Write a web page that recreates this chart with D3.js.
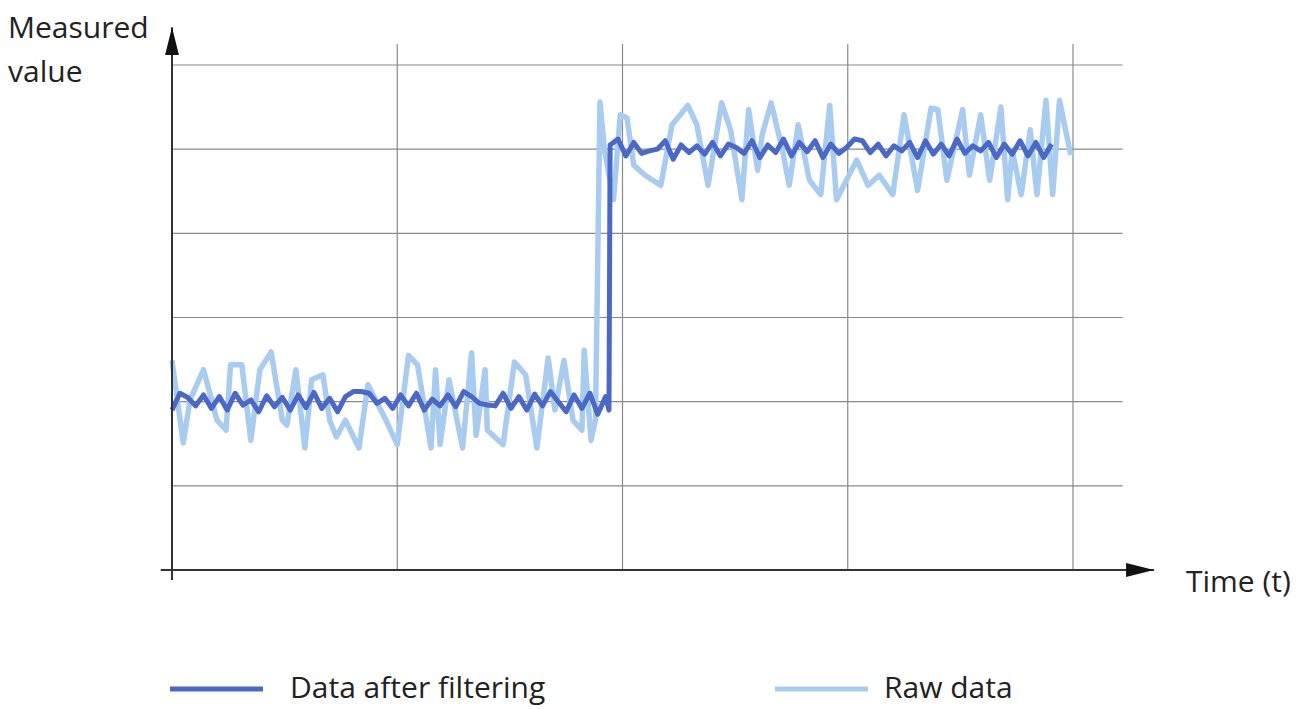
<!DOCTYPE html>
<html>
<head>
<meta charset="utf-8">
<script src="https://cdn.jsdelivr.net/npm/d3@7"></script>
<style>
  body { margin: 0; background: #fff; }
  text { font-family: "Open Sans", "Noto Sans", sans-serif; fill: #222; }
</style>
</head>
<body>
<div id="chart"></div>
<script>
// grid ticks (time units and value units)
const timeTicks = [0, 1, 2, 3, 4];
const valueTicks = [1, 2, 3, 4, 5, 6];

// raw signal (noisy)
const rawTime = [0.00, 0.05, 0.08, 0.14, 0.20, 0.24, 0.26, 0.31, 0.35, 0.39, 0.44, 0.49, 0.51, 0.55, 0.59, 0.62,
  0.67, 0.70, 0.73, 0.77, 0.83, 0.87, 0.95, 1.00, 1.05, 1.09, 1.15, 1.17, 1.19, 1.23, 1.29, 1.33, 1.35, 1.39,
  1.40, 1.47, 1.52, 1.57, 1.62, 1.67, 1.70, 1.74, 1.78, 1.82, 1.83, 1.86, 1.88, 1.90, 1.92, 1.96, 1.99, 2.02,
  2.05, 2.10, 2.17, 2.22, 2.29, 2.33, 2.38, 2.44, 2.48, 2.53, 2.56, 2.60, 2.62, 2.66, 2.71, 2.74, 2.78, 2.83,
  2.88, 2.92, 2.95, 3.04, 3.09, 3.14, 3.20, 3.25, 3.31, 3.37, 3.40, 3.44, 3.51, 3.54, 3.59, 3.63, 3.68, 3.71,
  3.73, 3.77, 3.81, 3.84, 3.88, 3.91, 3.94, 3.99];
const rawValue = [2.49, 1.51, 2.02, 2.38, 1.78, 1.66, 2.44, 2.44, 1.54, 2.38, 2.59, 1.78, 1.72, 2.38, 1.45, 2.26,
  2.32, 1.78, 1.58, 1.78, 1.45, 2.20, 1.78, 1.49, 2.55, 2.44, 1.45, 2.38, 1.49, 2.26, 1.45, 2.58, 1.60, 2.38,
  1.66, 1.49, 2.47, 2.32, 1.45, 2.52, 1.90, 2.49, 1.78, 1.66, 2.61, 1.54, 1.78, 5.56, 4.99, 4.40, 5.41, 5.37,
  4.81, 4.69, 4.57, 5.29, 5.52, 5.29, 4.57, 5.55, 5.23, 4.40, 5.47, 4.75, 5.17, 5.55, 4.99, 4.57, 5.29, 4.63,
  4.46, 5.52, 4.40, 4.87, 4.57, 4.69, 4.46, 5.41, 4.51, 5.49, 5.47, 4.63, 5.47, 4.69, 5.41, 4.63, 5.50, 4.40,
  4.99, 4.46, 5.23, 4.46, 5.58, 4.46, 5.58, 4.93];

// filtered signal
const filteredTime = [0.00, 0.035, 0.07, 0.105, 0.14, 0.175, 0.21, 0.245, 0.28, 0.315, 0.35, 0.385, 0.42, 0.455,
  0.49, 0.525, 0.56, 0.595, 0.63, 0.665, 0.70, 0.735, 0.77, 0.805, 0.84, 0.875, 0.91, 0.945, 0.98, 1.015, 1.05,
  1.085, 1.12, 1.155, 1.19, 1.225, 1.26, 1.295, 1.33, 1.365, 1.40, 1.435, 1.47, 1.505, 1.54, 1.575, 1.61, 1.645,
  1.68, 1.715, 1.75, 1.785, 1.82, 1.855, 1.89, 1.925, 1.94, 1.945, 1.98, 2.015, 2.05, 2.085, 2.12, 2.155, 2.19,
  2.225, 2.26, 2.295, 2.33, 2.365, 2.40, 2.435, 2.47, 2.505, 2.54, 2.575, 2.61, 2.645, 2.68, 2.715, 2.75, 2.785,
  2.82, 2.855, 2.89, 2.925, 2.96, 2.995, 3.03, 3.065, 3.10, 3.135, 3.17, 3.205, 3.24, 3.275, 3.31, 3.345, 3.38,
  3.415, 3.45, 3.485, 3.52, 3.555, 3.59, 3.625, 3.66, 3.695, 3.73, 3.765, 3.80, 3.835, 3.87, 3.905];
const filteredValue = [1.90, 2.10, 2.05, 1.95, 2.08, 1.92, 2.06, 1.90, 2.10, 1.96, 2.02, 1.88, 2.07, 1.94,
  2.05, 1.90, 2.08, 1.93, 2.11, 1.92, 2.04, 1.88, 2.06, 2.12, 2.12, 2.10, 1.98, 2.04, 1.92, 2.08, 1.95,
  2.10, 1.90, 2.03, 1.95, 2.08, 1.94, 2.12, 2.06, 1.98, 1.96, 1.95, 2.10, 1.92, 2.06, 1.90, 2.09, 1.95,
  2.12, 2.00, 1.88, 2.08, 1.92, 2.10, 1.85, 2.06, 1.90, 5.05, 5.12, 4.92, 5.08, 4.95, 4.98, 5.00, 5.10,
  4.88, 5.05, 4.96, 5.04, 4.94, 5.08, 4.92, 5.06, 5.02, 4.95, 5.10, 4.90, 5.05, 4.96, 5.12, 4.92, 5.08,
  4.97, 5.10, 4.90, 5.06, 4.95, 5.02, 5.12, 5.10, 4.96, 5.06, 4.92, 5.04, 4.98, 5.08, 4.90, 5.10, 4.94,
  5.06, 4.92, 5.12, 4.95, 5.04, 4.98, 5.08, 4.90, 5.06, 4.94, 5.10, 4.92, 5.08, 4.90, 5.06];

const seriesNames = ["Data after filtering", "Raw data"];
const seriesColors = ["#4a68c6", "#a8ccef"];

const width = 1310;
const height = 709;

const svg = d3.select("#chart")
  .append("svg")
  .attr("width", width)
  .attr("height", height);

const x = d3.scaleLinear().domain([0, 4]).range([172, 1073]);
const y = d3.scaleLinear().domain([0, 6]).range([570, 65]);

// arrowhead for both axes
svg.append("defs").append("marker")
  .attr("id", "arrow")
  .attr("viewBox", "0 0 28 14")
  .attr("refX", 28).attr("refY", 7)
  .attr("markerWidth", 28).attr("markerHeight", 14)
  .attr("markerUnits", "userSpaceOnUse")
  .attr("orient", "auto")
  .append("path")
  .attr("d", "M0,0 L28,7 L0,14 Z")
  .attr("fill", "#111");

// grid
svg.append("g").selectAll("line")
  .data(timeTicks.slice(1))
  .enter()
  .append("line")
  .attr("x1", d => x(d)).attr("x2", d => x(d))
  .attr("y1", y(0)).attr("y2", y(6.25))
  .attr("stroke", "#8a8a8a")
  .attr("stroke-width", 1.2);

svg.append("g").selectAll("line")
  .data(valueTicks)
  .enter()
  .append("line")
  .attr("x1", x(0)).attr("x2", x(4.22))
  .attr("y1", d => y(d)).attr("y2", d => y(d))
  .attr("stroke", "#8a8a8a")
  .attr("stroke-width", 1.2);

// series
const line = d3.line()
  .x(d => x(d[0]))
  .y(d => y(d[1]));

const rawPoints = rawTime.map((t, i) => [t, rawValue[i]]);
const filteredPoints = filteredTime.map((t, i) => [t, filteredValue[i]]);

svg.append("path")
  .datum(rawPoints)
  .attr("d", line)
  .attr("fill", "none")
  .attr("stroke", seriesColors[1])
  .attr("stroke-width", 5.5)
  .attr("stroke-linejoin", "round");

svg.append("path")
  .datum(filteredPoints)
  .attr("d", line)
  .attr("fill", "none")
  .attr("stroke", seriesColors[0])
  .attr("stroke-width", 5)
  .attr("stroke-linejoin", "round");

// axes with arrows
svg.append("line")
  .attr("x1", x(-0.05)).attr("x2", x(4.36))
  .attr("y1", y(0)).attr("y2", y(0))
  .attr("stroke", "#333")
  .attr("stroke-width", 2)
  .attr("marker-end", "url(#arrow)");

svg.append("line")
  .attr("x1", x(0)).attr("x2", x(0))
  .attr("y1", y(-0.12)).attr("y2", y(6.45))
  .attr("stroke", "#333")
  .attr("stroke-width", 2)
  .attr("marker-end", "url(#arrow)");

// axis titles
svg.append("text").text("Measured").attr("x", 8).attr("y", 38).attr("font-size", 30);
svg.append("text").text("value").attr("x", 8).attr("y", 82).attr("font-size", 30);
svg.append("text").text("Time (t)").attr("x", 1186).attr("y", 592).attr("font-size", 30);

// legend
const legendX = [170, 775];
const legend = svg.append("g").selectAll("g")
  .data(seriesNames)
  .enter()
  .append("g")
  .attr("transform", (d, i) => `translate(${legendX[i]},689)`);

legend.append("line")
  .attr("x1", 0).attr("x2", 93)
  .attr("y1", 0).attr("y2", 0)
  .attr("stroke", (d, i) => seriesColors[i])
  .attr("stroke-width", 5);

legend.append("text")
  .text(d => d)
  .attr("x", (d, i) => i === 0 ? 120 : 109)
  .attr("y", 9)
  .attr("font-size", 30);
</script>
</body>
</html>
